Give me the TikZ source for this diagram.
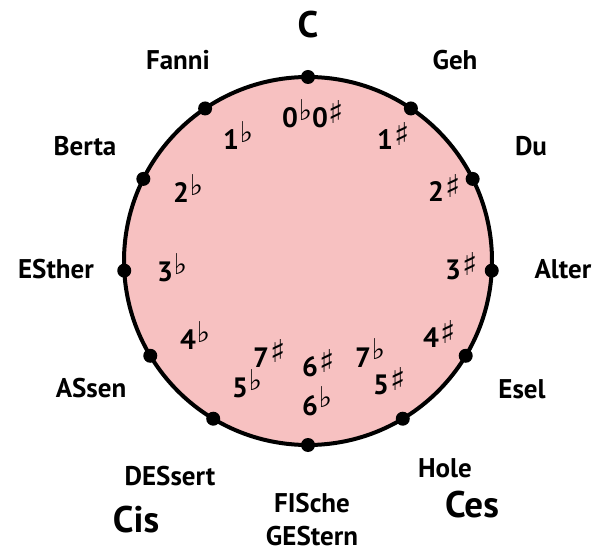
\documentclass[tikz,border=0pt]{standalone}
\usepackage{fontspec}
\usepackage{graphicx}
\usetikzlibrary{calc}
\setmainfont{PT Sans}
\newfontfamily\symfam{DejaVu Sans}
\definecolor{discpink}{RGB}{247,193,193}
\newcommand{\myflat}{\kern0.5pt\raisebox{7.5pt}{\resizebox*{!}{21pt}{\symfam ♭}}}
\newcommand{\mysharp}{\kern1pt\raisebox{4.5pt}{\resizebox*{!}{23pt}{\symfam ♯}}}
\tikzset{
  disc/.style={circle, draw=black, fill=discpink, line width=4pt, minimum size=368pt, inner sep=0pt},
  dot/.style={circle, fill=black, minimum size=14pt, inner sep=0pt},
  lbl/.style={anchor=base, inner sep=0pt, font=\bfseries\fontsize{27}{27}\selectfont},
  biglbl/.style={anchor=base, inner sep=0pt, font=\bfseries\fontsize{37}{37}\selectfont},
  keylbl/.style={anchor=base west, inner sep=0pt, font=\bfseries\fontsize{28}{28}\selectfont}
}
\begin{document}
\begin{tikzpicture}[x=1pt, y=-1pt]
\useasboundingbox (0,0) rectangle (608,553);
\node[disc] (disc) at (308,261) {};
% dots on the rim
\node[dot] (dC)  at ($(disc.center)+(-90:184)$) {};
\node[dot] (dG)  at ($(disc.center)+(-56:184)$) {};
\node[dot] (dD)  at ($(disc.center)+(-26.5:184)$) {};
\node[dot] (dA)  at ($(disc.center)+(3:184)$) {};
\node[dot] (dE)  at ($(disc.center)+(31:184)$) {};
\node[dot] (dH)  at ($(disc.center)+(59:184)$) {};
\node[dot] (dFis) at ($(disc.center)+(90:184)$) {};
\node[dot] (dDes) at ($(disc.center)+(121:184)$) {};
\node[dot] (dAs) at ($(disc.center)+(149:184)$) {};
\node[dot] (dEs) at ($(disc.center)+(177:184)$) {};
\node[dot] (dB)  at ($(disc.center)+(206.5:184)$) {};
\node[dot] (dF)  at ($(disc.center)+(236:184)$) {};
% outer labels
\node[biglbl] (lC) at (308,38) {C};
\node[lbl] (lFanni) at (178,70) {Fanni};
\node[lbl] (lGeh) at (455,70) {Geh};
\node[lbl] (lBerta) at (85,156) {Berta};
\node[lbl] (lDu) at (531,156) {Du};
\node[lbl] (lEsther) at (56,279) {ESther};
\node[lbl] (lAlter) at (563,279) {Alter};
\node[lbl] (lAssen) at (91,398) {ASsen};
\node[lbl] (lEsel) at (522,399) {Esel};
\node[lbl] (lDessert) at (170,485) {DESsert};
\node[lbl] (lHole) at (445,477) {Hole};
\node[lbl] (lFische) at (312,512) {FISche};
\node[lbl] (lGestern) at (312,545) {GEStern};
\node[biglbl] (lCis) at (136,532) {Cis};
\node[biglbl] (lCes) at (472,517) {Ces};
% inner key signatures
\node[keylbl] (k0) at (282,128) {0\myflat0\mysharp};
\node[keylbl] (k1f) at (223,150) {1\myflat};
\node[keylbl] (k1s) at (377,150) {1\mysharp};
\node[keylbl] (k2f) at (173,203) {2\myflat};
\node[keylbl] (k2s) at (428,202) {2\mysharp};
\node[keylbl] (k3f) at (157,282) {3\myflat};
\node[keylbl] (k3s) at (445,280) {3\mysharp};
\node[keylbl] (k4f) at (180,350) {4\myflat};
\node[keylbl] (k4s) at (423,348) {4\mysharp};
\node[keylbl] (k7s) at (253,367) {7\mysharp};
\node[keylbl] (k6s) at (302,377) {6\mysharp};
\node[keylbl] (k7f) at (355,367) {7\myflat};
\node[keylbl] (k5f) at (232,398) {5\myflat};
\node[keylbl] (k5s) at (373,395) {5\mysharp};
\node[keylbl] (k6f) at (302,415) {6\myflat};
\end{tikzpicture}
\end{document}
